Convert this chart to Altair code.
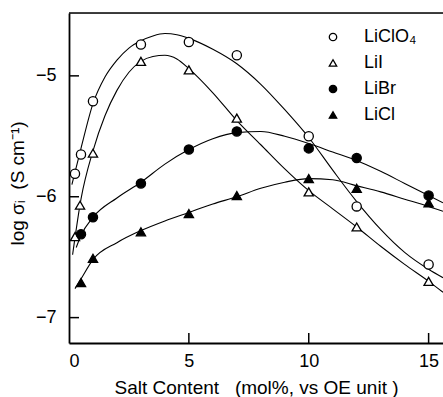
import altair as alt
import pandas as pd

salts = ["LiClO₄", "LiI", "LiBr", "LiCl"]

# measured points
clo4_x = [0.25, 0.5, 1, 3, 5, 7, 10, 12, 15]
clo4_y = [-5.81, -5.65, -5.21, -4.74, -4.72, -4.83, -5.50, -6.08, -6.56]
lii_x = [0.25, 0.46, 1, 3, 5, 7, 10, 12, 15]
lii_y = [-6.33, -6.07, -5.64, -4.88, -4.95, -5.35, -5.96, -6.25, -6.70]
libr_x = [0.5, 1, 3, 5, 7, 10, 12, 15]
libr_y = [-6.31, -6.17, -5.89, -5.61, -5.46, -5.60, -5.68, -5.99]
licl_x = [0.5, 1, 3, 5, 7, 10, 12, 15]
licl_y = [-6.71, -6.51, -6.29, -6.14, -5.99, -5.85, -5.93, -6.05]

# fitted curves
clo4_cx = [0.12, 0.5, 1, 1.5, 2, 2.5, 3, 3.5, 4, 4.5, 5, 6, 7, 8, 9, 10, 11, 12, 13, 14, 15, 15.6]
clo4_cy = [-5.90, -5.60, -5.23, -5.01, -4.87, -4.77, -4.71, -4.67, -4.65, -4.66, -4.69, -4.78, -4.90,
           -5.07, -5.28, -5.51, -5.78, -6.04, -6.27, -6.46, -6.60, -6.67]
lii_cx = [0.15, 0.5, 1, 1.5, 2, 2.5, 3, 3.5, 4, 4.5, 5, 6, 7, 8, 9, 10, 11, 12, 13, 14, 15, 15.6]
lii_cy = [-6.48, -6.02, -5.62, -5.33, -5.12, -4.97, -4.88, -4.84, -4.83, -4.86, -4.94, -5.14, -5.37,
          -5.57, -5.77, -5.95, -6.10, -6.25, -6.41, -6.56, -6.70, -6.79]
libr_cx = [0.3, 0.5, 1, 2, 3, 4, 5, 6, 7, 8, 9, 10, 11, 12, 13, 14, 15, 15.6]
libr_cy = [-6.42, -6.32, -6.17, -6.01, -5.88, -5.73, -5.61, -5.52, -5.47, -5.46, -5.50, -5.56,
           -5.63, -5.70, -5.79, -5.89, -5.99, -6.05]
licl_cx = [0.25, 0.5, 1, 2, 3, 4, 5, 6, 7, 8, 9, 10, 11, 12, 13, 14, 15, 15.6]
licl_cy = [-6.76, -6.68, -6.52, -6.38, -6.28, -6.20, -6.13, -6.06, -6.00, -5.93, -5.88, -5.85,
           -5.86, -5.91, -5.96, -6.02, -6.08, -6.12]

x_ticks = [5, 10, 15]
y_ticks = [-5, -6, -7]

pts = pd.concat([
    pd.DataFrame({"x": xs, "y": ys, "salt": s})
    for s, xs, ys in [(salts[0], clo4_x, clo4_y), (salts[1], lii_x, lii_y),
                      (salts[2], libr_x, libr_y), (salts[3], licl_x, licl_y)]
])
curves = pd.concat([
    pd.DataFrame({"x": xs, "y": ys, "salt": s})
    for s, xs, ys in [(salts[0], clo4_cx, clo4_cy), (salts[1], lii_cx, lii_cy),
                      (salts[2], libr_cx, libr_cy), (salts[3], licl_cx, licl_cy)]
])

W, H = 374, 330
FONT = "Liberation Sans"
NB = "\u00a0"
xs = alt.Scale(domain=[0, 15.6], nice=False, zero=False)
ys = alt.Scale(domain=[-7.21, -4.48], nice=False, zero=False)

xaxis = alt.Axis(values=x_ticks + [0], tickSize=0, labelPadding=9, labelFontSize=18,
                 labelFont=FONT, labelColor="black", domainColor="black", domainWidth=1.8,
                 grid=False, title=f"Salt Content{NB}{NB}{NB}(mol%,{NB}vs OE unit{NB})",
                 titleFont=FONT, titleFontSize=19, titleFontWeight="normal", titleColor="black",
                 titlePadding=8)
yaxis = alt.Axis(values=y_ticks, tickSize=0, labelPadding=13, labelFontSize=18, format="d",
                 labelFont=FONT, labelColor="black", domainColor="black", domainWidth=1.8,
                 grid=False, title=f"log σᵢ{NB}{NB}(S cm⁻¹)", titleFont=FONT, titleFontSize=19,
                 titleFontWeight="normal", titleColor="black", titlePadding=8, titleY=170)

legend = alt.Legend(title=None, orient="none", legendX=255, legendY=15, symbolSize=55,
                    labelFontSize=18, labelFont=FONT, labelColor="black", labelOffset=22,
                    rowPadding=8, symbolStrokeColor="black", symbolStrokeWidth=1.3, padding=0)

lines = alt.Chart(curves).mark_line(color="black", strokeWidth=1.1, interpolate="monotone",
                                    clip=True).encode(
    x=alt.X("x:Q", scale=xs, axis=xaxis),
    y=alt.Y("y:Q", scale=ys, axis=yaxis),
    detail="salt:N",
    order="x:Q",
)

points = alt.Chart(pts).mark_point(size=85, strokeWidth=1.3, opacity=1,
                                   filled=False).encode(
    x=alt.X("x:Q", scale=xs),
    y=alt.Y("y:Q", scale=ys),
    shape=alt.Shape("salt:N", scale=alt.Scale(domain=salts,
                    range=["circle", "triangle-up", "circle", "triangle-up"]),
                    legend=legend),
    fill=alt.Fill("salt:N", scale=alt.Scale(domain=salts,
                  range=["white", "white", "black", "black"]),
                  legend=legend),
    stroke=alt.Stroke("salt:N", scale=alt.Scale(domain=salts,
                      range=["black", "black", "black", "black"]),
                      legend=legend),
)

xt = alt.Chart(pd.DataFrame({"t": x_ticks})).mark_rule(color="black", strokeWidth=1.5).encode(
    x=alt.X("t:Q", scale=xs), y=alt.value(H), y2=alt.value(H - 10))
yt = alt.Chart(pd.DataFrame({"t": y_ticks})).mark_rule(color="black", strokeWidth=1.5).encode(
    y=alt.Y("t:Q", scale=ys), x=alt.value(0), x2=alt.value(10))
top = alt.Chart(pd.DataFrame({"t": [0]})).mark_rule(color="black", strokeWidth=1.6).encode(
    x=alt.value(0), x2=alt.value(W), y=alt.value(0))

chart = alt.layer(lines, xt, yt, top, points).properties(
    width=W, height=H, autosize="none",
    padding={"left": 69, "top": 13, "right": 0, "bottom": 54},
).configure_view(stroke=None).configure(background="white")

chart.save("out.html", embed_options={"renderer": "svg", "actions": False})
